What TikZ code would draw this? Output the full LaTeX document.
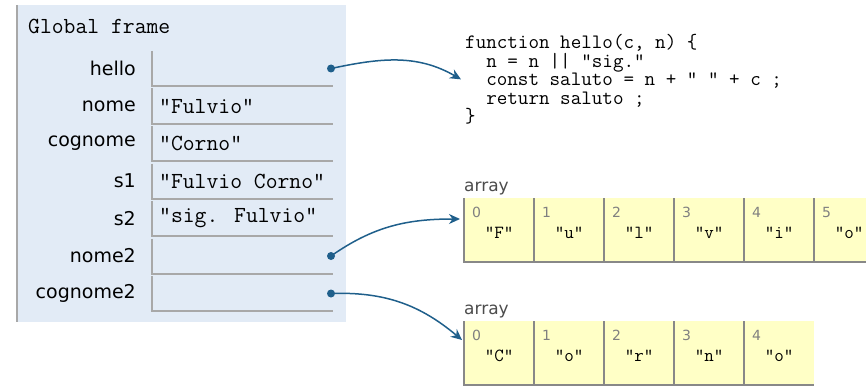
\documentclass[tikz,border=0pt]{standalone}
\usepackage{fontspec}
\setmainfont{DejaVu Sans}
\usetikzlibrary{arrows.meta}

\definecolor{framebg}{HTML}{E2EBF6}
\definecolor{frameline}{HTML}{A8A8A8}
\definecolor{heapbg}{HTML}{FFFFC6}
\definecolor{heapline}{HTML}{888888}
\definecolor{ptr}{HTML}{1F5F8B}

\tikzset{
  varname/.style={anchor=east,inner sep=0pt,font=\fontsize{19}{19}\selectfont},
  varval/.style={anchor=west,inner sep=0pt,font=\ttfamily\fontsize{23}{23}\selectfont},
  slot/.style={draw=frameline,line width=2pt},
  elem/.style={fill=heapbg,minimum width=70pt,minimum height=64pt,inner sep=0pt,anchor=north west},
  elemline/.style={draw=heapline,line width=2pt},
  idx/.style={anchor=north west,inner sep=0pt,text=gray,font=\fontsize{14}{14}\selectfont},
  elemval/.style={inner sep=0pt,font=\ttfamily\fontsize{18.5}{18.5}\selectfont},
  heaplabel/.style={anchor=base west,inner sep=0pt,text=black!70,font=\fontsize{17}{17}\selectfont},
  ptrdot/.style={circle,fill=ptr,minimum size=8pt,inner sep=0pt},
  pointer/.style={ptr,line width=1.5pt,-{Stealth[length=11pt,width=10pt]}}
}

\begin{document}
\begin{tikzpicture}[x=1pt,y=-1pt]
 \useasboundingbox (0,0) rectangle (866,385);
 \clip (0,0) rectangle (866,385);
 % global frame
 \fill[framebg] (17,5) rectangle (346,322);
 \draw[frameline,line width=2pt] (17,5) -- (17,322);
 \node[varval] (gf) at (28,26) {Global frame};
 \foreach \name/\val [count=\i from 0] in {hello/{},nome/"Fulvio",cognome/"Corno",s1/"Fulvio Corno",s2/"sig. Fulvio",nome2/{},cognome2/{}} {
  \pgfmathsetmacro\rowtop{51+37.5*\i}
  \draw[slot] (152,\rowtop) -- (152,\rowtop+35) -- (333,\rowtop+35);
  \node[varname] (n-\name) at (136,\rowtop+17.5) {\name};
  \node[varval] (v-\name) at (159,\rowtop+17.5) {\val};
 }
 % code of hello
 \node[anchor=north west,inner sep=0pt,align=left,font=\ttfamily\fontsize{20.5}{18.6}\selectfont] (hello-fn) at (465,34)
  {function hello(c, n) \{\\
   \ \ n = n || "sig."\\
   \ \ const saluto = n + "\ " + c ;\\
   \ \ return saluto ;\\
   \}};
 % first array
 \node[heaplabel] (lbl-a) at (464,191) {array};
 \foreach \ch [count=\k from 0] in {F,u,l,v,i,o} {
  \node[elem] (a\k) at (464+70*\k,198) {};
  \draw[elemline] (a\k.north west) -- (a\k.south west) -- (a\k.south east);
  \node[idx] at ([xshift=8pt,yshift=-9pt]a\k.north west) {\k};
  \node[elemval] at ([yshift=-3pt]a\k.center) {"\ch"};
 }
 % second array
 \node[heaplabel] (lbl-b) at (464,314) {array};
 \foreach \ch [count=\k from 0] in {C,o,r,n,o} {
  \node[elem] (b\k) at (464+70*\k,321) {};
  \draw[elemline] (b\k.north west) -- (b\k.south west) -- (b\k.south east);
  \node[idx] at ([xshift=8pt,yshift=-9pt]b\k.north west) {\k};
  \node[elemval] at ([yshift=-3pt]b\k.center) {"\ch"};
 }
 % pointers
 \draw[pointer] (331,68.5) to[out=12,in=150] ([xshift=-4pt]hello-fn.west);
 \draw[pointer] (331,256) to[out=35,in=180] ([xshift=-4pt,yshift=-21pt]a0.north west);
 \draw[pointer] (331,293.5) to[out=2,in=140] ([xshift=-2pt,yshift=-19pt]b0.north west);
 \node[ptrdot] (p-hello) at (331,68.5) {};
 \node[ptrdot] (p-nome2) at (331,256) {};
 \node[ptrdot] (p-cognome2) at (331,293.5) {};
\end{tikzpicture}
\end{document}
